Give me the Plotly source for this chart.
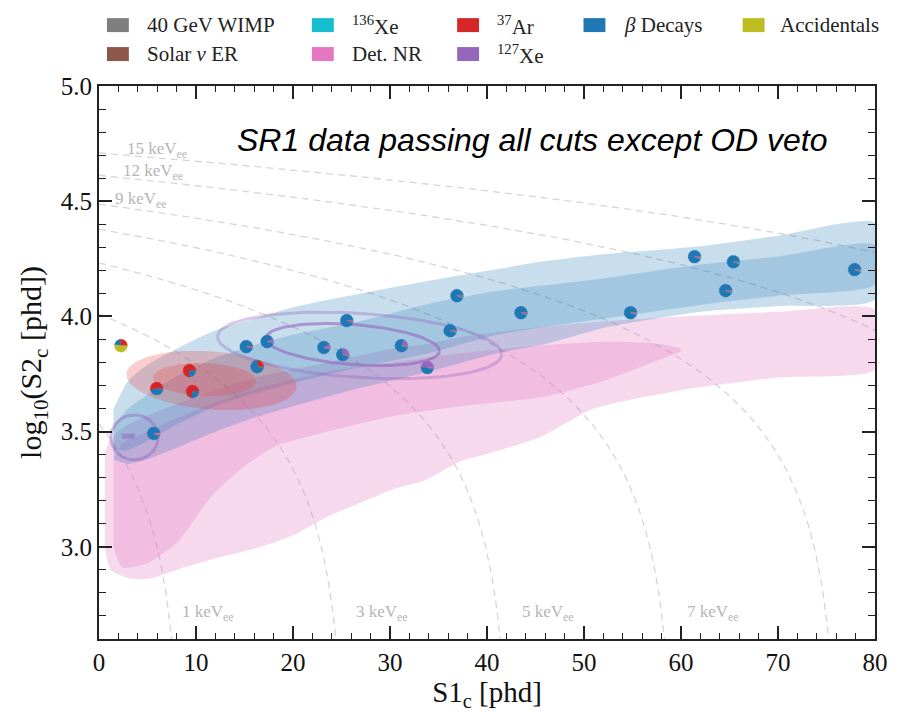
import numpy as np
import plotly.graph_objects as go

# ---------------- figure geometry ----------------
W, H = 900, 712
ML, MR, MT, MB = 99, 21, 86, 72
X_RANGE = (0.0, 80.0)
Y_RANGE = (2.6, 5.0)
PX_X = (W - ML - MR) / (X_RANGE[1] - X_RANGE[0])   # pixels per phd
PX_Y = (H - MT - MB) / (Y_RANGE[1] - Y_RANGE[0])   # pixels per decade
PIE_R = 6.5                                         # pie marker radius, px

SERIF = "Liberation Serif, Times New Roman, serif"
SANS = "Liberation Sans, Arial, sans-serif"

# ---------------- events passing cuts ----------------
s1_events = [2.26, 5.95, 9.33, 9.64, 5.64, 15.18, 17.33, 16.30, 23.18, 25.13, 25.54,
             31.18, 33.85, 36.20, 36.90, 43.50, 54.80, 61.40, 64.60, 65.40, 77.90]
log_s2_events = [3.873, 3.687, 3.765, 3.674, 3.492, 3.869, 3.891, 3.782, 3.865, 3.834, 3.982,
                 3.873, 3.778, 3.938, 4.090, 4.016, 4.016, 4.259, 4.112, 4.237, 4.203]

# per-event component fractions (pie wedges, drawn counter-clockwise from 3 o'clock)
frac_ar37 = [0.28, 0.55, 0.75, 0.72, 0.00, 0.02, 0.00, 0.22, 0.00, 0.00, 0.01,
             0.00, 0.00, 0.01, 0.01, 0.01, 0.01, 0.01, 0.01, 0.01, 0.01]
frac_xe127 = [0.00, 0.00, 0.00, 0.00, 0.03, 0.00, 0.08, 0.00, 0.10, 0.28, 0.00,
              0.20, 0.50, 0.00, 0.00, 0.00, 0.00, 0.00, 0.00, 0.00, 0.00]
frac_beta = [0.20, 0.43, 0.25, 0.28, 0.88, 0.93, 0.87, 0.76, 0.85, 0.67, 0.93,
             0.75, 0.46, 0.93, 0.93, 0.93, 0.93, 0.93, 0.93, 0.93, 0.93]
frac_acc = [0.52, 0.00, 0.00, 0.00, 0.00, 0.00, 0.00, 0.00, 0.00, 0.00, 0.00,
            0.00, 0.00, 0.00, 0.00, 0.00, 0.00, 0.00, 0.00, 0.00, 0.00]
frac_xe136 = [0.00, 0.01, 0.00, 0.00, 0.02, 0.02, 0.02, 0.01, 0.02, 0.02, 0.02,
              0.02, 0.02, 0.03, 0.03, 0.03, 0.03, 0.03, 0.03, 0.03, 0.03]
frac_solar = [0.00, 0.01, 0.00, 0.00, 0.04, 0.02, 0.02, 0.01, 0.02, 0.02, 0.03,
              0.02, 0.01, 0.02, 0.02, 0.02, 0.02, 0.02, 0.02, 0.02, 0.02]
frac_nr = [0.00, 0.00, 0.00, 0.00, 0.03, 0.01, 0.01, 0.00, 0.01, 0.01, 0.01,
           0.01, 0.01, 0.01, 0.01, 0.01, 0.01, 0.01, 0.01, 0.01, 0.01]
frac_wimp = [0.0] * 21

# ---------------- model contours ----------------
# beta-decay ER band (1 and 2 sigma)
er_s1 = [1.5, 3, 5, 8, 12, 16, 20, 27, 34, 41, 46, 52, 62, 70, 80]
er_outer_hi = [3.60, 3.72, 3.79, 3.86, 3.94, 3.99, 4.04, 4.10, 4.155, 4.205, 4.24, 4.27, 4.305, 4.35, 4.405]
er_inner_hi = [3.52, 3.60, 3.66, 3.74, 3.82, 3.875, 3.92, 3.98, 4.055, 4.11, 4.135, 4.165, 4.225, 4.26, 4.31]
er_inner_lo = [3.42, 3.42, 3.46, 3.53, 3.61, 3.665, 3.71, 3.78, 3.84, 3.92, 3.955, 3.99, 4.05, 4.09, 4.138]
er_outer_lo = [3.38, 3.36, 3.38, 3.43, 3.50, 3.56, 3.61, 3.69, 3.76, 3.84, 3.88, 3.95, 4.02, 4.045, 4.073]

# detector NR band: outer and inner regions
nr_s1 = [0.6, 1.2, 3, 5, 8, 12, 16.7, 20, 23.5, 26.9, 30.3, 33.7, 37.2, 40.6, 45.7, 51, 60, 70, 80]
nr_outer_lo = [3.00, 2.90, 2.865, 2.86, 2.90, 2.95, 3.00, 3.05, 3.13, 3.19, 3.25, 3.29, 3.37, 3.41, 3.48, 3.60, 3.68, 3.735, 3.77]
nr_outer_hi = [3.40, 3.47, 3.53, 3.57, 3.62, 3.68, 3.74, 3.77, 3.80, 3.83, 3.86, 3.88, 3.91, 3.93, 3.955, 3.975, 4.00, 4.02, 4.03]
nr_in_s1 = [1.5, 2.4, 5, 8.1, 11.6, 15, 18.4, 23.5, 30.3, 37.2, 45.7, 52, 57, 60]
nr_inner_lo = [3.00, 2.91, 2.93, 3.02, 3.22, 3.35, 3.44, 3.50, 3.567, 3.61, 3.65, 3.72, 3.80, 3.85]
nr_inner_hi = [3.38, 3.45, 3.50, 3.56, 3.62, 3.67, 3.71, 3.76, 3.80, 3.84, 3.875, 3.89, 3.885, 3.86]

# elliptical contours: centre S1, centre log10 S2, half-width (phd), half-height (decades), tilt (deg)
ar37_outer = [11.6, 3.722, 8.8, 0.126, 4.5]
ar37_inner = [10.87, 3.726, 5.3, 0.072, 2.0]
xe127_outer = [26.87, 3.874, 14.67, 0.139, 3.7]
xe127_inner = [26.15, 3.878, 8.97, 0.087, 4.4]
xe127_low = [3.66, 3.475, 2.43, 0.0975, 0.0]
xe127_low_core_s1 = [2.35, 3.68]
xe127_low_core_y = [3.48, 3.48]

# iso-energy lines (keVee) from detector gains
energies_kev = [1, 3, 5, 7, 9, 12, 15]
G1, G2, W_KEV = 0.116, 46.8, 13.7e-3
bottom_labels = [(1, 8.3), (3, 26.3), (5, 43.4), (7, 60.4)]
left_labels = [(15, 2.67, 4.723), (12, 2.26, 4.627), (9, 1.44, 4.506)]

fig = go.Figure()


def band(xs, lo, hi, color):
    fig.add_trace(go.Scatter(
        x=list(xs) + list(xs)[::-1], y=list(hi) + list(lo)[::-1],
        mode="lines", fill="toself", fillcolor=color,
        line=dict(width=0, color=color, shape="spline", smoothing=0.6),
        hoverinfo="skip", showlegend=False))


def ellipse_xy(params, n=120):
    cx, cy, a, b, tilt = params
    t = np.linspace(0, 2 * np.pi, n)
    u, v = a * PX_X * np.cos(t), b * PX_Y * np.sin(t)
    th = np.deg2rad(tilt)
    ur = u * np.cos(th) + v * np.sin(th)
    vr = -u * np.sin(th) + v * np.cos(th)
    return cx + ur / PX_X, cy + vr / PX_Y


# iso-energy guide lines
for e in energies_kev:
    nq = e / W_KEV
    s1 = np.linspace(0, G1 * nq, 400)
    s2 = G2 * (nq - s1 / G1)
    ok = s2 > 10 ** (Y_RANGE[0] - 0.05)
    fig.add_trace(go.Scatter(x=s1[ok], y=np.log10(s2[ok]), mode="lines",
                             line=dict(color="#d6d6d6", width=1.3, dash="7px,5px"),
                             hoverinfo="skip", showlegend=False))

# NR contours
band(nr_s1, nr_outer_lo, nr_outer_hi, "rgba(227,119,194,0.28)")
band(nr_in_s1, nr_inner_lo, nr_inner_hi, "rgba(227,119,194,0.28)")
# ER contours
band(er_s1, er_outer_lo, er_outer_hi, "rgba(31,119,180,0.24)")
band(er_s1, er_inner_lo, er_inner_hi, "rgba(31,119,180,0.22)")

# 37Ar contours
for p in (ar37_outer, ar37_inner):
    ex, ey = ellipse_xy(p)
    fig.add_trace(go.Scatter(x=ex, y=ey, mode="lines", fill="toself",
                             fillcolor="rgba(230,60,60,0.26)", line=dict(width=0),
                             hoverinfo="skip", showlegend=False))

# 127Xe contours (outlined)
for p, alpha in ((xe127_outer, 0.35), (xe127_inner, 0.62), (xe127_low, 0.45)):
    ex, ey = ellipse_xy(p)
    fig.add_trace(go.Scatter(x=ex, y=ey, mode="lines",
                             line=dict(width=3, color=f"rgba(148,103,189,{alpha})"),
                             hoverinfo="skip", showlegend=False))
fig.add_trace(go.Scatter(x=xe127_low_core_s1, y=xe127_low_core_y, mode="lines",
                         line=dict(width=5, color="rgba(148,103,189,0.55)"),
                         hoverinfo="skip", showlegend=False))

# pie markers for each event
components = [
    (frac_ar37, "#d62728"), (frac_xe127, "#9467bd"), (frac_beta, "#1f77b4"),
    (frac_acc, "#bcbd22"), (frac_xe136, "#17becf"), (frac_solar, "#8c564b"),
    (frac_nr, "#e377c2"), (frac_wimp, "#7f7f7f"),
]
n_ev = len(s1_events)
totals = [sum(c[0][i] for c in components) for i in range(n_ev)]
wedge_x = [[] for _ in components]
wedge_y = [[] for _ in components]
for i in range(n_ev):
    cx, cy = s1_events[i], log_s2_events[i]
    a0 = 0.0
    for k, (fr, _) in enumerate(components):
        f = fr[i] / totals[i]
        if f <= 0:
            continue
        a1 = a0 + 2 * np.pi * f
        t = np.linspace(a0, a1, max(3, int((a1 - a0) / 0.06) + 2))
        wedge_x[k] += [cx] + list(cx + PIE_R * np.cos(t) / PX_X) + [cx, None]
        wedge_y[k] += [cy] + list(cy + PIE_R * np.sin(t) / PX_Y) + [cy, None]
        a0 = a1
for k, (_, col) in enumerate(components):
    if wedge_x[k]:
        fig.add_trace(go.Scatter(x=wedge_x[k], y=wedge_y[k], mode="lines", fill="toself",
                                 fillcolor=col, line=dict(width=0.4, color=col),
                                 hoverinfo="skip", showlegend=False))

# energy labels
for e, x in bottom_labels:
    fig.add_annotation(x=x, y=2.713, text=f"{e} keV<sub>ee</sub>", showarrow=False,
                       xanchor="left", yanchor="middle",
                       font=dict(family=SERIF, size=17, color="#b5b5b5"))
for e, x, y in left_labels:
    fig.add_annotation(x=x, y=y, text=f"{e} keV<sub>ee</sub>", showarrow=False,
                       xanchor="left", yanchor="middle",
                       font=dict(family=SERIF, size=17, color="#b5b5b5"))

# in-plot caption
fig.add_annotation(xref="paper", yref="paper", x=(535 - ML) / (W - ML - MR),
                   y=(H - MB - 140) / (H - MT - MB),
                   text="SR1 data passing all cuts except OD veto", showarrow=False,
                   xanchor="center", yanchor="middle",
                   font=dict(family=SANS, size=32, color="black", style="italic"))

# legend (five columns, two rows)
legend_items = [
    ("40 GeV WIMP", "#7f7f7f", 0, 0), ("Solar <i>ν</i> ER", "#8c564b", 0, 1),
    ("<sup>136</sup>Xe", "#17becf", 1, 0), ("Det. NR", "#e377c2", 1, 1),
    ("<sup>37</sup>Ar", "#d62728", 2, 0), ("<sup>127</sup>Xe", "#9467bd", 2, 1),
    ("<i>β</i> Decays", "#1f77b4", 3, 0), ("Accidentals", "#bcbd22", 4, 0),
]
col_box_px = [107, 313, 459, 586, 746]
col_text_px = [145, 351, 497, 625, 782]
row_px = [25, 54]


def px_to_paper(px, py):
    return (px - ML) / (W - ML - MR), (H - MB - py) / (H - MT - MB)


for label, col, c, r in legend_items:
    x0, y0 = px_to_paper(col_box_px[c], row_px[r] + 7)
    x1, y1 = px_to_paper(col_box_px[c] + 22, row_px[r] - 7)
    fig.add_shape(type="rect", xref="paper", yref="paper", x0=x0, y0=y0, x1=x1, y1=y1,
                  fillcolor=col, line=dict(width=0))
    tx, ty = px_to_paper(col_text_px[c], row_px[r])
    fig.add_annotation(xref="paper", yref="paper", x=tx, y=ty, text=label, showarrow=False,
                       xanchor="left", yanchor="middle",
                       font=dict(family=SERIF, size=21, color="#222"))

axis_common = dict(
    showgrid=False, zeroline=False, showline=True, linecolor="#222", linewidth=2,
    mirror="ticks", ticks="inside", ticklen=13, tickwidth=1.5, tickcolor="#222",
    tickfont=dict(family=SERIF, size=25, color="#111"),
)
fig.update_xaxes(range=list(X_RANGE), dtick=10, tick0=0,
                 minor=dict(dtick=2, ticks="inside", ticklen=6, tickwidth=1.2, tickcolor="#222"),
                 title=dict(text="S1<sub>c</sub> [phd]", standoff=4,
                            font=dict(family=SERIF, size=29, color="#111")),
                 **axis_common)
fig.update_yaxes(range=list(Y_RANGE), dtick=0.5, tick0=3.0, tickformat=".1f",
                 minor=dict(dtick=0.1, ticks="inside", ticklen=7, tickwidth=1.2, tickcolor="#222"),
                 title=dict(text="log<sub>10</sub>(S2<sub>c</sub> [phd])", standoff=10,
                            font=dict(family=SERIF, size=30, color="#111")),
                 **axis_common)

fig.update_layout(width=W, height=H, margin=dict(l=ML, r=MR, t=MT, b=MB),
                  plot_bgcolor="white", paper_bgcolor="white", showlegend=False)

fig.write_html("out.html")
